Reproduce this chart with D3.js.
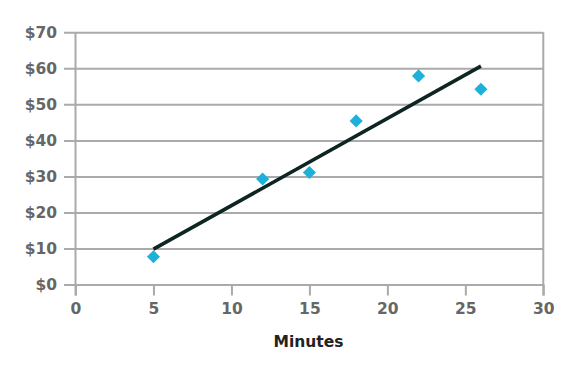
<!DOCTYPE html>
<html>
<head>
<meta charset="utf-8">
<script src="https://cdn.jsdelivr.net/npm/d3@7.9.0/dist/d3.min.js"></script>
<style>
  body { margin: 0; background: #fff; }
  svg { display: block; }
  .tick text { font-family: "DejaVu Sans", Verdana, sans-serif; font-weight: bold; font-size: 15.5px; fill: #666; }
</style>
</head>
<body>
<div id="chart"></div>
<script>
// data
const minutes = [5, 12, 15, 18, 22, 26];
const dollars = [7.7, 29.3, 31.1, 45.4, 57.9, 54.2];
const trendX = [5, 26];
const trendY = [9.8, 60.6];
const xTicks = [0, 5, 10, 15, 20, 25, 30];
const yTicks = [0, 10, 20, 30, 40, 50, 60, 70];

const width = 584, height = 371;
const area = { left: 75.5, right: 543.3, top: 32.3, bottom: 284.5 };

const svg = d3.select('#chart').append('svg')
  .attr('width', width).attr('height', height);

const x = d3.scaleLinear().domain([0, 30]).range([area.left, area.right]);
const y = d3.scaleLinear().domain([0, 70]).range([area.bottom, area.top]);

// horizontal gridlines + y labels
const yAxis = svg.append('g')
  .attr('transform', `translate(${area.right},0)`)
  .call(d3.axisLeft(y).tickValues(yTicks)
    .tickSize(area.right - area.left + 11.5)
    .tickPadding(7)
    .tickFormat(d => '$' + d));
yAxis.select('.domain').remove();
yAxis.selectAll('.tick line').attr('stroke', '#aaa').attr('stroke-width', 2);

// x axis
const xAxis = svg.append('g')
  .attr('transform', `translate(0,${area.bottom})`)
  .call(d3.axisBottom(x).tickValues(xTicks).tickSize(11).tickPadding(7));
xAxis.select('.domain').remove();
xAxis.selectAll('.tick line').attr('stroke', '#aaa').attr('stroke-width', 2);

// left and right plot borders
svg.append('line')
  .attr('x1', x(0)).attr('x2', x(0))
  .attr('y1', y(70)).attr('y2', y(0) + 11)
  .attr('stroke', '#aaa').attr('stroke-width', 2);
svg.append('line')
  .attr('x1', x(30)).attr('x2', x(30))
  .attr('y1', y(70)).attr('y2', y(0) + 11)
  .attr('stroke', '#aaa').attr('stroke-width', 2);

// trend line
svg.append('line')
  .attr('x1', x(trendX[0])).attr('y1', y(trendY[0]))
  .attr('x2', x(trendX[1])).attr('y2', y(trendY[1]))
  .attr('stroke', '#0e2623').attr('stroke-width', 3.6);

// diamonds
const diamond = d3.symbol(d3.symbolSquare, 86);
svg.append('g').selectAll('path')
  .data(minutes.map((m, i) => [m, dollars[i]]))
  .join('path')
  .attr('d', diamond)
  .attr('transform', d => `translate(${x(d[0])},${y(d[1])}) rotate(45)`)
  .attr('fill', '#1db1da');

svg.append('text')
  .attr('x', 308.5).attr('y', 347)
  .attr('text-anchor', 'middle')
  .style('font-family', '"DejaVu Sans", Verdana, sans-serif')
  .style('font-weight', 'bold')
  .style('font-size', '15.5px')
  .style('fill', '#222')
  .text('Minutes');
</script>
</body>
</html>
